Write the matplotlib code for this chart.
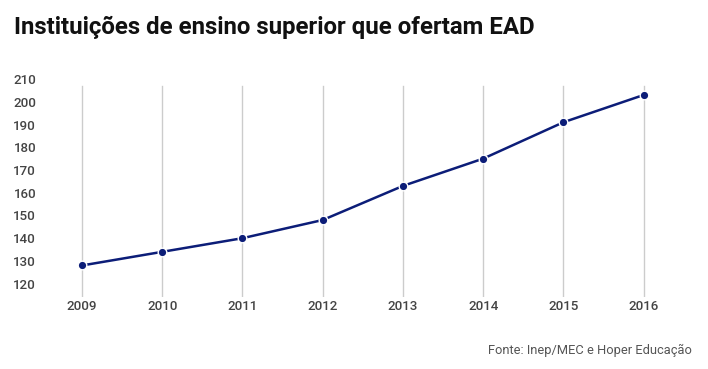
import matplotlib
matplotlib.use("Agg")
import matplotlib.pyplot as plt

# data
anos = [2009, 2010, 2011, 2012, 2013, 2014, 2015, 2016]
instituicoes = [128, 134, 140, 148, 163, 175, 191, 203]
yticks = [120, 130, 140, 150, 160, 170, 180, 190, 200, 210]

plt.rcParams['font.family'] = ['Roboto', 'DejaVu Sans']

W, H = 708, 369
fig = plt.figure(figsize=(W / 100, H / 100), dpi=100)

# axes box in pixels
left_px, right_px = 50, 680
top_px, bottom_px = 74.5, 297.3
ax = fig.add_axes([left_px / W, 1 - bottom_px / H, (right_px - left_px) / W, (bottom_px - top_px) / H])

# x scale: 2009 at px 82, 2016 at px 643.7
px_per_year = (643.7 - 82) / 7
ax.set_xlim(2009 - (82 - left_px) / px_per_year, 2016 + (right_px - 643.7) / px_per_year)
ax.set_ylim(114, 212)

# vertical gridlines, stopping a little below the top label
for a in anos:
    ax.plot([a, a], [114, 206.9], color='#cccccc', lw=1, zorder=1)

ax.plot(anos, instituicoes, color='#0c1d78', lw=1.8, marker='o', markersize=6.2,
        markerfacecolor='#0c1d78', markeredgecolor='white', markeredgewidth=1, zorder=3)

ax.set_xticks(anos)
ax.set_xticklabels([str(a) for a in anos])
ax.set_yticks(yticks)
ax.tick_params(axis='both', length=0, labelsize=9.6, labelcolor='#444444')
ax.tick_params(axis='y', pad=10)
ax.tick_params(axis='x', pad=2)
for lbl in ax.get_xticklabels() + ax.get_yticklabels():
    lbl.set_fontweight(500)
for s in ax.spines.values():
    s.set_visible(False)

fig.text(14 / W, 1 - 27 / H, 'Instituições de ensino superior que ofertam EAD',
         fontsize=17.3, fontweight='bold', color='#111111', ha='left', va='center')
fig.text(692 / W, 1 - 350 / H, 'Fonte: Inep/MEC e Hoper Educação',
         fontsize=9.3, color='#555555', ha='right', va='center')

fig.savefig('out.png', dpi=100)
